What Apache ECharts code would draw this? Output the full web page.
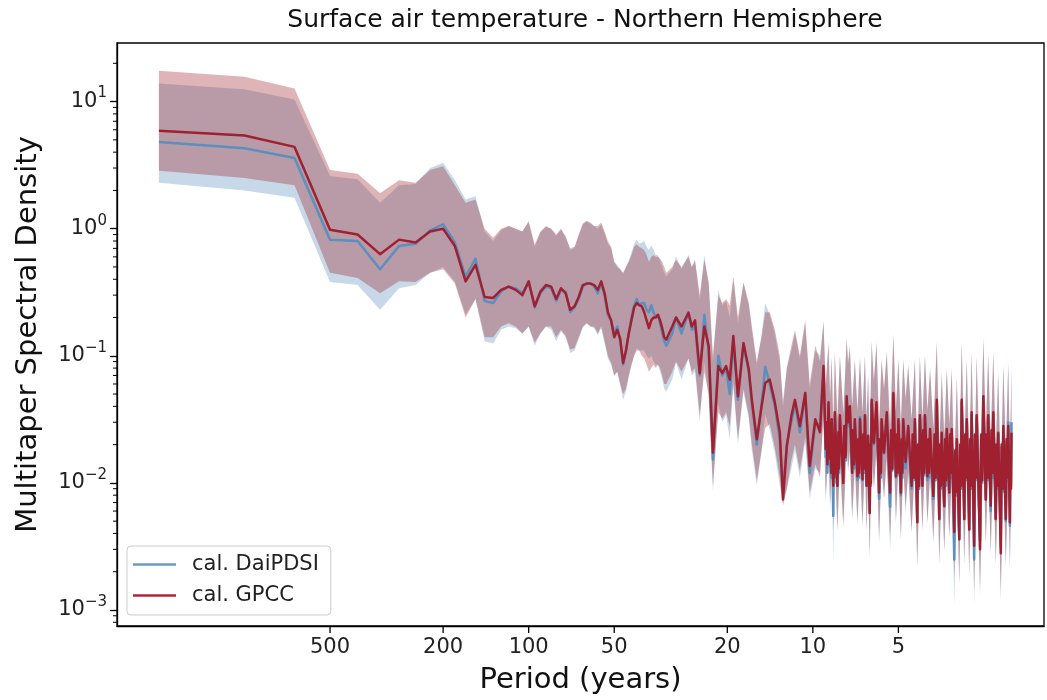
<!DOCTYPE html>
<html><head><meta charset="utf-8">
<script src="https://cdn.jsdelivr.net/npm/echarts@6/dist/echarts.min.js"></script>
<style>html,body{margin:0;padding:0;background:#fff}#chart{width:1047px;height:700px}</style>
</head><body><div id="chart"></div>
<script>
// ---------------- data ----------------
const recordYears = 2000; // spectral estimates on the harmonic grid k / recordYears

// harmonics at which the two spectra are drawn
const lineHarmonic = [
  1,2,3,4,5,6,7,8,9,10,11,12,13,14,15,16,17,18,19,20,
  21,22,23,24,25,26,27,28,29,30,31,32,33,34,35,36,37,38,39,40,
  41,42,43,44,45,46,47,48,49,50,51,52,53,54,55,56,57,58,59,60,
  61,64,66,69,73,75,77,80,83,86,89,93,96,99,102,105,109,114,119,122,
  127,132,136,141,147,153,157,162,168,173,180,188,195,204,212,
  218,222,224,225,227,230,231,232,233,236,237,238,239,244,246,247,249,256,258,261,
  263,266,270,275,277,279,281,287,289,291,293,299,301,303,305,309,310,312,313,317,
  319,320,322,328,335,342,344,347,349,356,364,374,377,381,384,392,395,397,400,408,
  411,413,416,424,433,445,449,453,457,466,469,473,476,486,489,493,496,506,510,513,
  517,531,536,541,546,557,561,564,568,580,584,588,592,604,608,612,616,629,633,638,
  642,655,660,664,668,682,687,691,696,710,715,719,724,739,744,749,754,775,782,789,
  796,812,817,823,828,845,851,857,863,880,886,892,898,917,923,930,936,955,961,968,
  974,987,991,996,1000
];
const gpcc = [
  5.9,5.4,4.4,0.98,0.90,0.63,0.82,0.78,0.95,1.0,
  0.73,0.385,0.52,0.29,0.285,0.33,0.35,0.33,0.30,0.385,
  0.245,0.32,0.36,0.35,0.28,0.34,0.31,0.23,0.245,0.29,
  0.36,0.37,0.37,0.36,0.33,0.385,0.31,0.22,0.19,0.14,
  0.16,0.135,0.088,0.11,0.15,0.19,0.24,0.26,0.25,0.245,
  0.22,0.19,0.165,0.19,0.2,0.2,0.21,0.19,0.165,0.14,
  0.134,0.17,0.2,0.17,0.218,0.17,0.19,0.073,0.17,0.119,0.0173,0.083,0.073,0.083,0.065,0.143,0.048,0.126,0.078,0.045,
  0.022,0.04,0.061,0.065,0.043,0.025,0.0074,0.0195,0.0335,0.045,0.028,0.051,0.0136,0.0317,0.025,
  0.083,0.0185,0.03,0.014,0.043,0.0155,0.024,0.012,0.0316,0.0095,0.02,0.011,0.036,0.0095,0.025,0.013,0.034,0.010,0.028,0.016,
  0.048,0.030,0.040,0.012,0.026,0.014,0.0316,0.0113,0.022,0.012,0.0316,0.0107,0.024,0.013,0.034,0.0095,0.018,0.011,0.0235,0.0058,
  0.02,0.01,0.045,0.0207,0.043,0.0084,0.022,0.012,0.0316,0.0173,0.036,0.0084,0.026,0.013,0.051,0.0113,0.024,0.012,0.0316,0.0084,
  0.022,0.012,0.0316,0.0146,0.028,0.0095,0.024,0.011,0.0316,0.0049,0.02,0.0095,0.034,0.0095,0.026,0.012,0.034,0.0113,0.022,0.012,
  0.0265,0.0079,0.024,0.011,0.045,0.0052,0.02,0.0095,0.0248,0.0066,0.022,0.0105,0.0265,0.0084,0.024,0.012,0.0265,0.0041,0.018,0.0085,
  0.022,0.0036,0.02,0.0095,0.045,0.0052,0.024,0.011,0.0316,0.0043,0.022,0.0095,0.036,0.0032,0.024,0.011,0.034,0.003,0.024,0.0105,
  0.048,0.0074,0.024,0.011,0.034,0.0066,0.026,0.012,0.036,0.0052,0.02,0.0095,0.0248,0.0028,0.02,0.009,0.028,0.0052,0.022,0.011,
  0.028,0.0049,0.018,0.009,0.0248
];
const dai = [
  4.8,4.3,3.6,0.82,0.80,0.48,0.73,0.76,0.97,1.08,
  0.78,0.42,0.58,0.27,0.26,0.32,0.35,0.34,0.31,0.38,
  0.24,0.31,0.35,0.34,0.27,0.33,0.32,0.22,0.24,0.28,
  0.35,0.37,0.37,0.35,0.31,0.37,0.30,0.21,0.19,0.15,
  0.17,0.13,0.085,0.11,0.15,0.2,0.25,0.28,0.25,0.26,
  0.26,0.23,0.22,0.25,0.22,0.2,0.21,0.18,0.15,0.13,
  0.12,0.15,0.2,0.15,0.22,0.16,0.17,0.07,0.21,0.11,0.0153,0.1,0.07,0.08,0.05,0.13,0.045,0.12,0.075,0.042,
  0.02,0.042,0.082,0.06,0.04,0.022,0.009,0.02,0.03,0.042,0.025,0.048,0.012,0.03,0.028,
  0.075,0.016,0.028,0.012,0.04,0.0135,0.022,0.011,0.03,0.0055,0.019,0.01,0.034,0.0095,0.024,0.012,0.032,0.011,0.026,0.015,
  0.045,0.028,0.038,0.012,0.025,0.013,0.03,0.0105,0.021,0.011,0.033,0.0105,0.023,0.012,0.033,0.0095,0.017,0.0105,0.022,0.0058,
  0.019,0.0095,0.042,0.02,0.04,0.0075,0.021,0.011,0.03,0.017,0.034,0.0065,0.025,0.0125,0.048,0.011,0.023,0.0115,0.03,0.008,
  0.021,0.011,0.03,0.013,0.027,0.009,0.022,0.0105,0.03,0.0049,0.019,0.009,0.032,0.0095,0.025,0.0115,0.033,0.0105,0.021,0.011,
  0.025,0.0075,0.023,0.0105,0.043,0.0052,0.019,0.009,0.023,0.0065,0.021,0.0095,0.025,0.0084,0.023,0.011,0.025,0.0025,0.017,0.008,
  0.021,0.0036,0.019,0.009,0.043,0.0052,0.023,0.0105,0.03,0.0043,0.021,0.009,0.034,0.0025,0.023,0.0105,0.032,0.0035,0.023,0.01,
  0.045,0.0074,0.022,0.0105,0.033,0.006,0.025,0.011,0.034,0.0052,0.019,0.009,0.024,0.0031,0.019,0.0085,0.027,0.005,0.021,0.0105,
  0.03,0.0046,0.02,0.0095,0.03
];

// harmonics at which the confidence bands are drawn
const bandHarmonic = [
  1,2,3,4,5,6,7,8,9,10,11,12,13,14,15,16,17,18,19,20,
  21,22,23,24,25,26,27,28,29,30,31,32,33,34,35,36,37,38,39,40,
  41,42,43,44,45,46,47,48,49,50,51,52,53,54,55,56,57,58,59,60,
  61,64,66,69,73,75,77,80,83,86,89,93,96,99,102,105,109,114,119,122,
  127,132,136,141,147,153,157,162,168,173,180,188,195,204,212,
  218,222,227,230,233,236,239,244,249,256,263,266,270,275,281,287,293,299,305,309,
  313,317,322,328,335,342,349,356,364,374,384,392,400,408,416,424,433,445,457,466,
  476,486,496,506,517,531,546,557,568,580,592,604,616,629,642,655,668,682,696,710,
  724,739,754,775,796,812,828,845,863,880,898,917,936,955,974,987,1000
];
const gpccHigh = [
  17.5,15.7,12.7,2.9,2.7,1.9,2.4,2.3,2.9,3.1,
  2.2,1.6,1.7,1.0,0.85,1.0,1.05,1.0,0.95,1.15,
  0.75,0.95,1.05,1.0,0.9,1.0,0.85,0.7,0.72,0.9,
  1.1,1.15,1.1,1.05,1.05,1.12,0.95,0.8,0.72,0.55,
  0.5,0.48,0.45,0.5,0.55,0.62,0.72,0.75,0.72,0.7,
  0.68,0.62,0.55,0.6,0.62,0.6,0.6,0.58,0.55,0.5,
  0.45,0.5,0.57,0.5,0.6,0.5,0.57,0.3,0.57,0.38,0.1,0.3,0.26,0.28,0.25,0.42,0.2,0.38,0.26,0.17,
  0.09,0.14,0.22,0.22,0.16,0.1,0.04,0.08,0.12,0.16,0.1,0.19,0.06,0.12,0.09,
  0.19,0.06,0.13,0.05,0.1,0.032,0.11,0.032,0.1,0.034,0.14,0.09,0.12,0.04,0.095,0.038,0.095,0.036,0.1,0.032,
  0.072,0.02,0.13,0.065,0.13,0.029,0.095,0.055,0.11,0.029,0.15,0.038,0.095,0.029,0.095,0.047,0.085,0.032,0.095,0.017,
  0.1,0.032,0.1,0.038,0.08,0.027,0.13,0.018,0.075,0.023,0.08,0.029,0.08,0.014,0.068,0.013,0.13,0.018,0.095,0.015,
  0.11,0.011,0.1,0.011,0.14,0.026,0.1,0.023,0.11,0.018,0.075,0.01,0.085,0.018,0.085,0.017,0.075
];
const gpccLow = [
  2.85,2.5,2.2,0.45,0.41,0.31,0.385,0.38,0.45,0.48,
  0.37,0.2,0.28,0.14,0.14,0.17,0.18,0.17,0.15,0.17,
  0.127,0.15,0.17,0.17,0.14,0.16,0.14,0.112,0.115,0.14,
  0.17,0.18,0.17,0.17,0.15,0.17,0.13,0.1,0.088,0.07,
  0.075,0.06,0.05,0.055,0.07,0.085,0.1,0.11,0.11,0.1,
  0.095,0.085,0.075,0.08,0.085,0.08,0.085,0.08,0.07,0.06,
  0.06,0.075,0.09,0.075,0.095,0.075,0.08,0.034,0.075,0.05,0.0095,0.036,0.032,0.036,0.028,0.062,0.022,0.055,0.034,0.02,
  0.0105,0.018,0.027,0.029,0.019,0.011,0.0066,0.009,0.015,0.02,0.0125,0.023,0.0084,0.014,0.011,
  0.036,0.008,0.019,0.0068,0.014,0.0042,0.016,0.0042,0.015,0.0044,0.021,0.013,0.018,0.0053,0.014,0.005,0.014,0.0047,0.015,0.0042,
  0.0104,0.0026,0.02,0.0091,0.019,0.0037,0.014,0.0076,0.016,0.0037,0.0225,0.005,0.014,0.0037,0.014,0.0064,0.0123,0.0042,0.014,0.0022,
  0.015,0.0042,0.015,0.005,0.0117,0.0035,0.02,0.0023,0.011,0.0029,0.0117,0.0037,0.0117,0.0018,0.0097,0.0016,0.02,0.0023,0.014,0.0019,
  0.016,0.0014,0.015,0.0013,0.021,0.0033,0.015,0.0029,0.016,0.0023,0.011,0.0012,0.0123,0.0023,0.0123,0.0022,0.011
];
const daiHigh = [
  13.9,12.5,10.4,2.6,2.45,1.6,2.2,2.25,3.0,3.3,
  2.4,1.7,1.8,0.95,0.8,0.97,1.05,1.0,0.95,1.12,
  0.72,0.93,1.03,1.0,0.88,0.98,0.88,0.68,0.7,0.88,
  1.08,1.15,1.12,1.05,1.0,1.08,0.92,0.76,0.7,0.55,
  0.52,0.48,0.44,0.5,0.56,0.65,0.76,0.82,0.76,0.78,
  0.8,0.72,0.68,0.74,0.68,0.62,0.62,0.56,0.5,0.45,
  0.42,0.48,0.6,0.48,0.62,0.5,0.55,0.28,0.62,0.36,0.09,0.33,0.25,0.27,0.2,0.4,0.18,0.37,0.25,0.16,
  0.085,0.15,0.26,0.21,0.15,0.09,0.045,0.08,0.11,0.15,0.095,0.18,0.055,0.11,0.1,
  0.18,0.055,0.12,0.045,0.095,0.02,0.1,0.032,0.1,0.036,0.13,0.085,0.11,0.04,0.09,0.036,0.1,0.036,0.1,0.032,
  0.068,0.02,0.125,0.062,0.12,0.026,0.09,0.054,0.1,0.023,0.14,0.037,0.09,0.028,0.09,0.044,0.082,0.031,0.09,0.017,
  0.096,0.032,0.1,0.036,0.076,0.026,0.125,0.018,0.07,0.023,0.076,0.029,0.076,0.009,0.065,0.013,0.125,0.018,0.09,0.015,
  0.1,0.009,0.096,0.012,0.13,0.026,0.1,0.021,0.1,0.018,0.072,0.011,0.082,0.018,0.09,0.016,0.09
];
const daiLow = [
  2.3,2.0,1.75,0.38,0.36,0.23,0.34,0.36,0.45,0.5,
  0.38,0.21,0.28,0.13,0.125,0.16,0.17,0.165,0.15,0.17,
  0.12,0.15,0.17,0.16,0.13,0.155,0.145,0.105,0.11,0.135,
  0.165,0.18,0.17,0.165,0.145,0.165,0.125,0.095,0.085,0.07,
  0.075,0.058,0.045,0.052,0.068,0.085,0.1,0.115,0.11,0.11,
  0.11,0.1,0.095,0.1,0.09,0.085,0.085,0.075,0.065,0.055,
  0.052,0.065,0.088,0.065,0.095,0.07,0.075,0.03,0.09,0.045,0.0085,0.042,0.03,0.034,0.022,0.056,0.02,0.052,0.032,0.018,
  0.0095,0.018,0.035,0.026,0.017,0.0095,0.007,0.009,0.013,0.018,0.011,0.021,0.0075,0.013,0.012,
  0.033,0.007,0.018,0.006,0.013,0.0024,0.015,0.0042,0.014,0.0048,0.02,0.012,0.017,0.0053,0.013,0.0046,0.0145,0.0046,0.0145,0.0042,
  0.0097,0.0026,0.0185,0.0088,0.0176,0.0033,0.013,0.0075,0.015,0.0029,0.021,0.0048,0.013,0.0035,0.013,0.0057,0.0119,0.004,0.013,0.0022,
  0.014,0.0042,0.0145,0.0046,0.011,0.0033,0.019,0.0023,0.01,0.0029,0.011,0.0037,0.011,0.0011,0.0092,0.0016,0.019,0.0023,0.013,0.0019,
  0.015,0.0011,0.014,0.0015,0.02,0.0033,0.0145,0.0026,0.015,0.0023,0.0106,0.0014,0.0119,0.0022,0.013,0.002,0.013
];
const seriesNames = ['cal. DaiPDSI', 'cal. GPCC'];
const xTickLabels = [500, 200, 100, 50, 20, 10, 5];
const titleText = 'Surface air temperature - Northern Hemisphere';
const xAxisTitle = 'Period (years)';
const yAxisTitle = 'Multitaper Spectral Density';

// ---------------- chart ----------------
const FONT = 'DejaVu Sans';
const yMin = 7.48e-4, yMax = 28.9;
const pMin = 1.537, pMax = 2809;
const linePeriod = lineHarmonic.map(k => recordYears / k);
const bandPeriod = bandHarmonic.map(k => recordYears / k);
const toPairs = vals => vals.map((v, i) => [linePeriod[i], v]);

const yMinor = [];
for (let e = -4; e <= 1; e++) for (let m = 2; m <= 9; m++) {
  const v = m * Math.pow(10, e);
  if (v >= yMin && v <= yMax) yMinor.push(v);
}

function band(name, low, high, fill, z) {
  return {
    type: 'custom', name: name, coordinateSystem: 'cartesian2d', silent: true, z: z,
    data: [[bandPeriod[0], high[0]]], encode: { x: 0, y: 1 },
    renderItem: function (params, api) {
      const pts = [];
      for (let i = 0; i < bandPeriod.length; i++) pts.push(api.coord([bandPeriod[i], high[i]]));
      for (let i = bandPeriod.length - 1; i >= 0; i--) pts.push(api.coord([bandPeriod[i], low[i]]));
      return { type: 'polygon', shape: { points: pts }, style: { fill: fill } };
    }
  };
}

const chart = echarts.init(document.getElementById('chart'), null, { renderer: 'canvas' });
chart.setOption({
  animation: false,
  backgroundColor: '#fff',
  title: {
    text: titleText, left: 585, top: 8, textAlign: 'center', padding: 0,
    textStyle: { fontSize: 25, fontWeight: 'normal', color: '#111', fontFamily: FONT }
  },
  grid: { left: 117, right: 3, top: 43, bottom: 73, show: true, borderColor: '#000', borderWidth: 1.3, backgroundColor: 'transparent' },
  legend: {
    data: seriesNames, orient: 'vertical', left: 127, top: 546,
    icon: 'rect', itemWidth: 43, itemHeight: 2.5, itemGap: 10, padding: [8, 12, 9, 6],
    backgroundColor: 'rgba(255,255,255,0.85)', borderColor: '#ccc', borderWidth: 1, borderRadius: 4,
    textStyle: { fontSize: 21, fontFamily: FONT, color: '#222', padding: [0, 0, 0, 11] }
  },
  xAxis: {
    type: 'log', logBase: 10, inverse: true, min: pMin, max: pMax,
    name: xAxisTitle, nameLocation: 'middle', nameGap: 40,
    nameTextStyle: { fontSize: 29, fontFamily: FONT, color: '#111' },
    axisLine: { show: true, lineStyle: { color: '#000', width: 1.3 } },
    axisTick: { show: false }, axisLabel: { show: false },
    splitLine: { show: false }, minorTick: { show: false }
  },
  yAxis: {
    type: 'log', logBase: 10, min: yMin, max: yMax,
    name: yAxisTitle, nameLocation: 'middle', nameGap: 74, nameRotate: 90,
    nameTextStyle: { fontSize: 29, fontFamily: FONT, color: '#111' },
    axisLine: { show: true, lineStyle: { color: '#000', width: 1.3 } },
    axisTick: { show: true, length: 7, lineStyle: { color: '#000', width: 1.3 } },
    splitLine: { show: false },
    axisLabel: {
      showMinLabel: false, showMaxLabel: false, margin: 10, color: '#222', fontFamily: FONT,
      formatter: function (v) {
        const e = Math.round(Math.log10(v));
        return '{b|10}{s|' + (e < 0 ? '\u2212' : '') + Math.abs(e) + '}';
      },
      rich: {
        b: { fontSize: 21, fontFamily: FONT, color: '#222', verticalAlign: 'bottom', lineHeight: 21 },
        s: { fontSize: 15, fontFamily: FONT, color: '#222', verticalAlign: 'bottom', lineHeight: 15, padding: [0, 0, 11, 0] }
      }
    }
  },
  series: [
    band('DaiPDSI band', daiLow, daiHigh, 'rgba(70,130,180,0.30)', 1),
    band('GPCC band', gpccLow, gpccHigh, 'rgba(160,40,50,0.35)', 2),
    {
      type: 'line', name: seriesNames[0], data: toPairs(dai), symbol: 'none', z: 3,
      lineStyle: { color: '#5b8fbe', width: 2.5, join: 'round' }, itemStyle: { color: '#6b9bc4' }
    },
    {
      type: 'line', name: seriesNames[1], data: toPairs(gpcc), symbol: 'none', z: 4,
      lineStyle: { color: '#a1202f', width: 2.5, join: 'round' }, itemStyle: { color: '#a82a38' }
    },
    {
      type: 'custom', name: 'x ticks', coordinateSystem: 'cartesian2d', silent: true, z: 10, clip: false,
      data: xTickLabels.map(p => [p, yMin]), encode: { x: 0, y: 1 },
      renderItem: function (params, api) {
        const p = api.coord([api.value(0), api.value(1)]);
        return {
          type: 'group', children: [
            { type: 'line', shape: { x1: p[0], y1: p[1], x2: p[0], y2: p[1] + 7 }, style: { stroke: '#000', lineWidth: 1.3 } },
            { type: 'text', x: p[0], y: p[1] + 11, style: {
                text: String(xTickLabels[params.dataIndex]), align: 'center', verticalAlign: 'top',
                textAlign: 'center', textVerticalAlign: 'top', fontSize: 21, fontFamily: FONT, fill: '#222' } }
          ]
        };
      }
    },
    {
      type: 'custom', name: 'y minor ticks', coordinateSystem: 'cartesian2d', silent: true, z: 10, clip: false,
      data: yMinor.map(v => [pMax, v]), encode: { x: 0, y: 1 },
      renderItem: function (params, api) {
        const p = api.coord([api.value(0), api.value(1)]);
        return { type: 'line', shape: { x1: p[0] - 4, y1: p[1], x2: p[0], y2: p[1] }, style: { stroke: '#000', lineWidth: 1 } };
      }
    }
  ]
});
</script>
</body></html>
